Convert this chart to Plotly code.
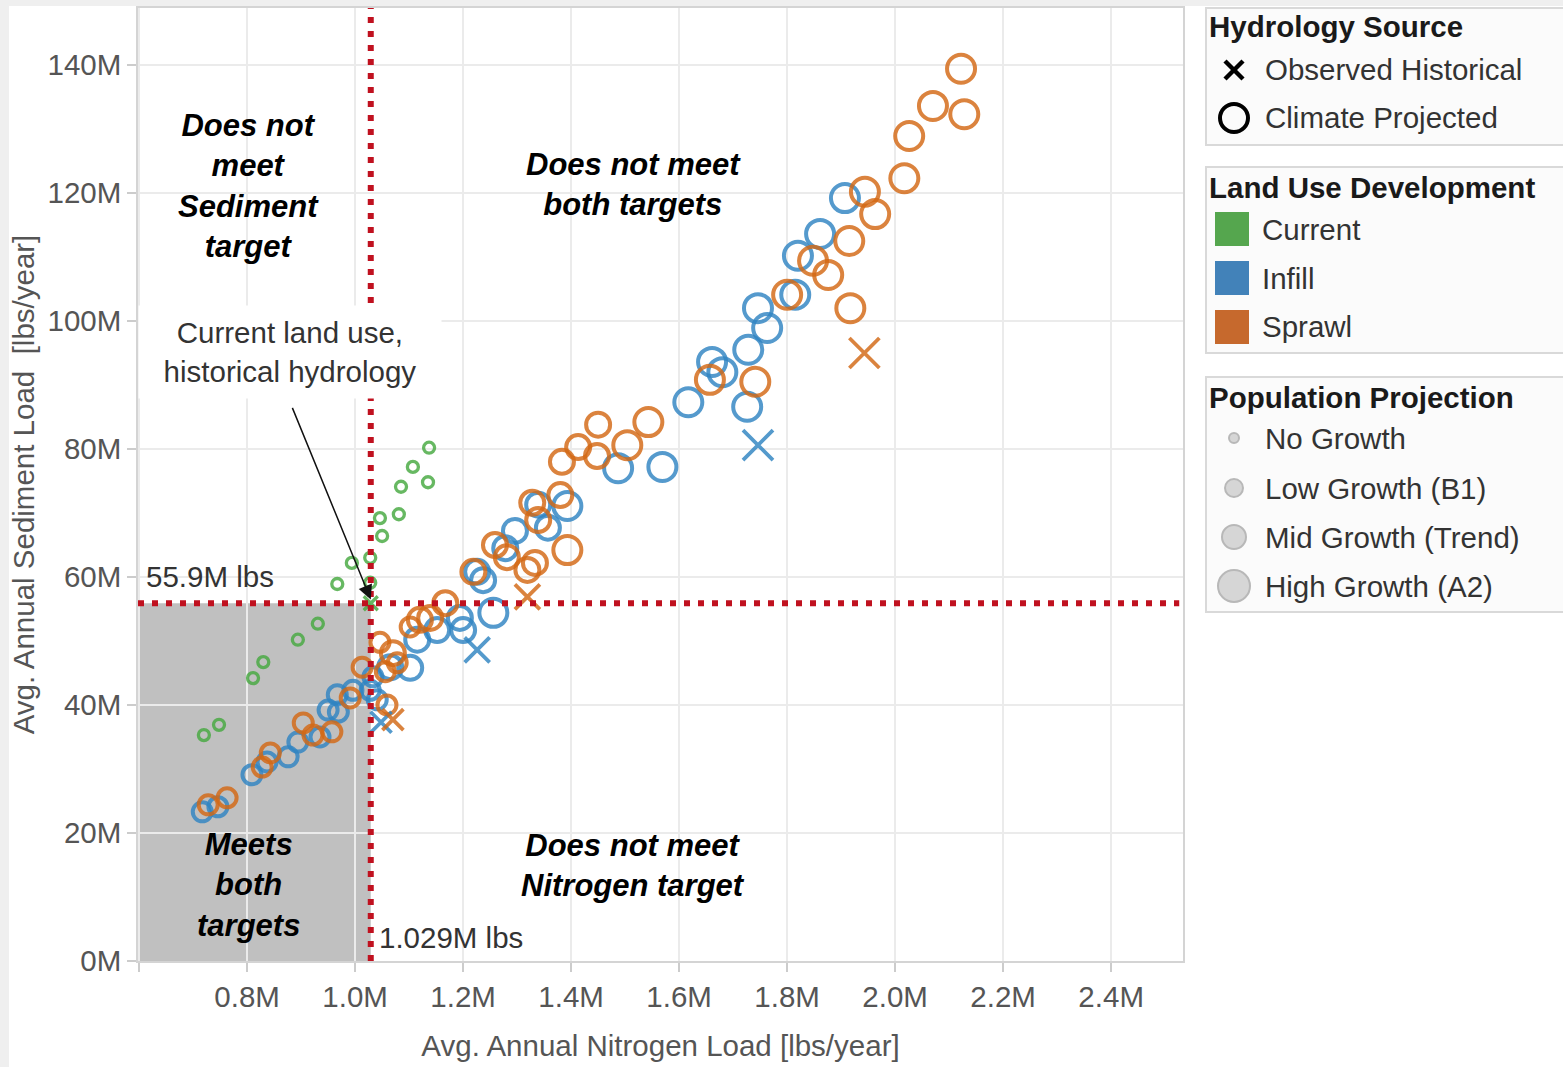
import plotly.graph_objects as go

# ---------------------------------------------------------------- data
N_TARGET = 1.029   # nitrogen target, M lbs/year
S_TARGET = 55.9    # sediment target, M lbs/year

# Current land use (no growth), climate projected
current_proj_n = [1.137, 1.107, 1.135, 1.085, 1.081, 1.046, 1.050, 1.028, 0.994,
                  1.028, 0.967, 0.931, 0.894, 0.830, 0.811, 0.748, 0.720]
current_proj_s = [80.2, 77.2, 74.8, 74.1, 69.8, 69.2, 66.4, 63.0, 62.2,
                  59.1, 58.9, 52.7, 50.2, 46.7, 44.2, 36.9, 35.3]
# Current land use, observed historical hydrology
current_hist_n = [1.029]
current_hist_s = [55.9]

# Infill, climate projected
infill_proj_n = [1.907, 1.861, 1.820, 1.815, 1.746, 1.763, 1.728, 1.661, 1.680, 1.617,
                 1.726, 1.569, 1.487, 1.393, 1.339, 1.357, 1.296, 1.278, 1.226, 1.237,
                 1.256, 1.194, 1.200, 1.152, 1.115, 1.102, 1.065, 1.033, 1.028, 1.041,
                 0.996, 0.967, 0.950, 0.969, 0.935, 0.894, 0.876, 0.837, 0.809, 0.746,
                 0.717]
infill_proj_s = [119.2, 113.6, 110.2, 104.1, 102.0, 98.9, 95.5, 93.6, 92.0, 87.3,
                 86.6, 77.2, 77.0, 71.1, 71.3, 67.7, 67.2, 64.5, 60.8, 59.5,
                 54.4, 53.6, 51.7, 51.7, 50.2, 45.8, 45.9, 44.4, 42.3, 40.8,
                 42.3, 41.6, 39.2, 38.9, 35.0, 34.2, 31.9, 31.1, 29.1, 24.1,
                 23.3]
infill_proj_growth = ["High", "High", "High", "High", "High", "High", "High", "High", "High", "High",
                      "High", "High", "High", "High", "Mid", "Mid", "Mid", "Mid", "Mid", "Mid",
                      "High", "Mid", "Mid", "Mid", "Mid", "Mid", "Mid", "Low", "Low", "Low",
                      "Low", "Low", "Low", "Low", "Low", "Low", "Low", "Low", "Low", "Low",
                      "Low"]
# Infill, observed historical hydrology
infill_hist_n = [1.746, 1.226, 1.048]
infill_hist_s = [80.6, 48.6, 37.3]
infill_hist_growth = ["High", "Mid", "Low"]

# Sprawl, climate projected
sprawl_proj_n = [2.122, 2.070, 2.128, 2.026, 2.017, 1.944, 1.963, 1.915, 1.848, 1.876,
                 1.800, 1.917, 1.657, 1.741, 1.543, 1.450, 1.504, 1.413, 1.448, 1.383,
                 1.380, 1.328, 1.339, 1.393, 1.259, 1.281, 1.333, 1.319, 1.219, 1.167,
                 1.139, 1.120, 1.102, 1.046, 1.070, 1.078, 1.013, 1.056, 1.059, 0.991,
                 0.904, 0.957, 0.922, 0.843, 0.828, 0.763, 0.728]
sprawl_proj_s = [139.4, 133.6, 132.3, 128.9, 122.3, 120.2, 116.7, 112.5, 109.4, 107.2,
                 104.1, 102.0, 90.8, 90.5, 84.2, 83.8, 80.6, 80.3, 78.9, 78.0,
                 72.8, 71.6, 68.9, 64.2, 65.0, 63.1, 62.2, 61.1, 60.8, 55.9,
                 53.6, 53.3, 52.2, 49.8, 48.1, 46.6, 45.9, 45.2, 40.0, 41.1,
                 37.2, 35.8, 35.3, 32.5, 30.3, 25.5, 24.4]
sprawl_proj_growth = ["High", "High", "High", "High", "High", "High", "High", "High", "High", "High",
                      "High", "High", "High", "High", "High", "Mid", "High", "Mid", "Mid", "Mid",
                      "Mid", "Mid", "Mid", "High", "Mid", "Mid", "Mid", "Mid", "Mid", "Mid",
                      "Mid", "Mid", "Low", "Low", "Mid", "Low", "Low", "Low", "Low", "Low",
                      "Low", "Low", "Low", "Low", "Low", "Low", "Low"]
# Sprawl, observed historical hydrology
sprawl_hist_n = [1.943, 1.319, 1.070]
sprawl_hist_s = [95.0, 56.9, 37.7]
sprawl_hist_growth = ["High", "Mid", "Low"]

X_TICKS = [0.6, 0.8, 1.0, 1.2, 1.4, 1.6, 1.8, 2.0, 2.2, 2.4]
X_TICK_TEXT = ["", "0.8M", "1.0M", "1.2M", "1.4M", "1.6M", "1.8M", "2.0M", "2.2M", "2.4M"]
Y_TICKS = [0, 20, 40, 60, 80, 100, 120, 140]
Y_TICK_TEXT = ["0M", "20M", "40M", "60M", "80M", "100M", "120M", "140M"]

# ---------------------------------------------------------------- style
W, H = 1563, 1067
PLOT_L, PLOT_R, PLOT_T, PLOT_B = 138, 1183, 8, 961
X_RANGE = [0.598, 2.533]
Y_RANGE = [0, 148.9]
FONT = "Arial, 'Liberation Sans', Helvetica, sans-serif"
FS = 29.5
TXT = "#333333"
AX_TXT = "#555555"
COL = {"Current": "#45a83f", "Infill": "#2f84c2", "Sprawl": "#d36814"}
LEG_COL = {"Current": "#55a64e", "Infill": "#4282b9", "Sprawl": "#c6692d"}
CIRCLE_SIZE = {"No": 11, "Low": 19, "Mid": 24, "High": 28}
X_SIZE = {"No": 14, "Low": 21, "Mid": 25, "High": 30}
RED = "#c0111f"


def pxx(x):
    return x / W


def pxy(y):
    return 1 - y / H


fig = go.Figure()


def add_points(n, s, growth, color, observed, lw=4):
    sizes = [(X_SIZE if observed else CIRCLE_SIZE)[g] for g in growth]
    fig.add_trace(go.Scatter(
        x=n, y=s, mode="markers", hoverinfo="x+y",
        marker=dict(symbol="x-thin" if observed else "circle-open",
                    size=sizes, color=color, opacity=0.82,
                    line=dict(color=color, width=lw)),
    ))


add_points(infill_proj_n, infill_proj_s, infill_proj_growth, COL["Infill"], False)
add_points(sprawl_proj_n, sprawl_proj_s, sprawl_proj_growth, COL["Sprawl"], False)
add_points(current_proj_n, current_proj_s, ["No"] * len(current_proj_n), COL["Current"], False, 3.3)
add_points(infill_hist_n, infill_hist_s, infill_hist_growth, COL["Infill"], True, 3.8)
add_points(sprawl_hist_n, sprawl_hist_s, sprawl_hist_growth, COL["Sprawl"], True, 3.8)
add_points(current_hist_n, current_hist_s, ["No"] * len(current_hist_n), COL["Current"], True, 3.3)

shapes = []
# outer gray frame strips
shapes.append(dict(type="rect", xref="paper", yref="paper", x0=0, x1=1, y0=pxy(6), y1=1,
                   fillcolor="#efefef", line=dict(width=0), layer="below"))
shapes.append(dict(type="rect", xref="paper", yref="paper", x0=0, x1=pxx(9), y0=0, y1=1,
                   fillcolor="#efefef", line=dict(width=0), layer="below"))
# "meets both targets" shaded zone
shapes.append(dict(type="rect", xref="x", yref="y", x0=X_RANGE[0], x1=N_TARGET, y0=0, y1=S_TARGET,
                   fillcolor="#c0c0c0", line=dict(width=0), layer="below"))
# target lines
shapes.append(dict(type="line", xref="x", yref="y", x0=N_TARGET, x1=N_TARGET, y0=Y_RANGE[0], y1=Y_RANGE[1],
                   line=dict(color=RED, width=6, dash="6px,8px"), layer="above"))
shapes.append(dict(type="line", xref="x", yref="y", x0=X_RANGE[0], x1=2.526, y0=S_TARGET, y1=S_TARGET,
                   line=dict(color=RED, width=6, dash="6px,8px"), layer="above"))

annotations = []


def quad_label(x, y, text):
    annotations.append(dict(x=x, y=y, xref="x", yref="y", text="<b><i>" + text + "</i></b>",
                            showarrow=False, xanchor="center", yanchor="middle", align="center",
                            font=dict(family=FONT, size=31, color="#000000")))


quad_label(0.802, 121.1, "Does not<br>meet<br>Sediment<br>target")
quad_label(1.515, 121.3, "Does not meet<br>both targets")
quad_label(0.802, 11.9, "Meets<br>both<br>targets")
quad_label(1.515, 15.0, "Does not meet<br>Nitrogen target")

annotations.append(dict(x=0.609, y=60.0, xref="x", yref="y", text="55.9M lbs", showarrow=False,
                        xanchor="left", yanchor="middle", font=dict(family=FONT, size=FS, color=TXT)))
annotations.append(dict(x=1.041, y=3.6, xref="x", yref="y", text="1.029M lbs", showarrow=False,
                        xanchor="left", yanchor="middle", font=dict(family=FONT, size=FS, color=TXT)))
# arrow to the current/historical point
annotations.append(dict(x=N_TARGET, y=S_TARGET + 0.6, xref="x", yref="y", text="", showarrow=True,
                        ax=-79, ay=-193, arrowhead=2, arrowsize=1.9, arrowwidth=1.5,
                        arrowcolor="#111111", standoff=0))
annotations.append(dict(x=0.880, y=95.2, xref="x", yref="y",
                        text="Current land use,<br>historical hydrology", showarrow=False,
                        xanchor="center", yanchor="middle", align="center", bgcolor="#ffffff",
                        width=300, height=90,
                        font=dict(family=FONT, size=FS, color=TXT)))

# ---------------------------------------------------------------- legend panels
LX0 = 1206


def panel(y0, y1):
    shapes.append(dict(type="rect", xref="paper", yref="paper", x0=pxx(LX0), x1=pxx(1575),
                       y0=pxy(y1), y1=pxy(y0), fillcolor="#fbfbfb",
                       line=dict(color="#d9d9d9", width=2), layer="below"))


def leg_text(x, y, text, bold=False):
    annotations.append(dict(x=pxx(x), y=pxy(y), xref="paper", yref="paper",
                            text=("<b>%s</b>" % text) if bold else text, showarrow=False,
                            xanchor="left", yanchor="middle",
                            font=dict(family=FONT, size=FS, color="#1a1a1a" if bold else TXT)))


panel(8, 145)
panel(167, 353)
panel(377, 612)

leg_text(1207, 27, "Hydrology Source", True)
leg_text(1263, 70, "Observed Historical")
leg_text(1263, 118, "Climate Projected")
for a, b in [((1225, 61), (1243, 79)), ((1225, 79), (1243, 61))]:
    shapes.append(dict(type="line", xref="paper", yref="paper", x0=pxx(a[0]), y0=pxy(a[1]),
                       x1=pxx(b[0]), y1=pxy(b[1]), line=dict(color="#000000", width=4.5)))
shapes.append(dict(type="circle", xref="paper", yref="paper", x0=pxx(1220), x1=pxx(1248),
                   y0=pxy(132), y1=pxy(104), line=dict(color="#000000", width=4)))

leg_text(1207, 187, "Land Use Development", True)
for name, yc in [("Current", 229), ("Infill", 278), ("Sprawl", 327)]:
    shapes.append(dict(type="rect", xref="paper", yref="paper", x0=pxx(1215), x1=pxx(1249),
                       y0=pxy(yc + 17), y1=pxy(yc - 17), fillcolor=LEG_COL[name],
                       line=dict(width=0)))
    leg_text(1260, yc, name)

leg_text(1207, 397, "Population Projection", True)
for label, yc, d in [("No Growth", 438, 10), ("Low Growth (B1)", 488, 18),
                     ("Mid Growth (Trend)", 537, 24), ("High Growth (A2)", 586, 32)]:
    shapes.append(dict(type="circle", xref="paper", yref="paper",
                       x0=pxx(1234 - d / 2), x1=pxx(1234 + d / 2),
                       y0=pxy(yc + d / 2), y1=pxy(yc - d / 2),
                       fillcolor="#d6d6d6", line=dict(color="#b8b8b8", width=2)))
    leg_text(1263, yc, label)

# ---------------------------------------------------------------- layout
axis_common = dict(showgrid=True, gridcolor="#ebebeb", gridwidth=1.5, zeroline=False,
                   showline=True, linecolor="#d4d4d4", linewidth=1.5, mirror=True,
                   ticks="outside", ticklen=9, tickcolor="#cccccc", tickwidth=1.5,
                   tickfont=dict(family=FONT, size=FS, color=AX_TXT))

fig.update_layout(
    width=W, height=H, margin=dict(l=0, r=0, t=0, b=0, autoexpand=False),
    paper_bgcolor="#ffffff", plot_bgcolor="#ffffff", showlegend=False,
    font=dict(family=FONT, color=AX_TXT),
    xaxis=dict(axis_common, domain=[PLOT_L / W, PLOT_R / W], range=X_RANGE,
               tickmode="array", tickvals=X_TICKS, ticktext=X_TICK_TEXT,
               title=dict(text="Avg. Annual Nitrogen Load [lbs/year]",
                          font=dict(family=FONT, size=FS, color=AX_TXT), standoff=23)),
    yaxis=dict(axis_common, domain=[1 - PLOT_B / H, 1 - PLOT_T / H], range=Y_RANGE,
               tickmode="array", tickvals=Y_TICKS, ticktext=Y_TICK_TEXT,
               title=dict(text="Avg. Annual Sediment Load\u00a0 [lbs/year]",
                          font=dict(family=FONT, size=FS, color=AX_TXT), standoff=4)),
    shapes=shapes, annotations=annotations,
)

fig.write_html("out.html")
